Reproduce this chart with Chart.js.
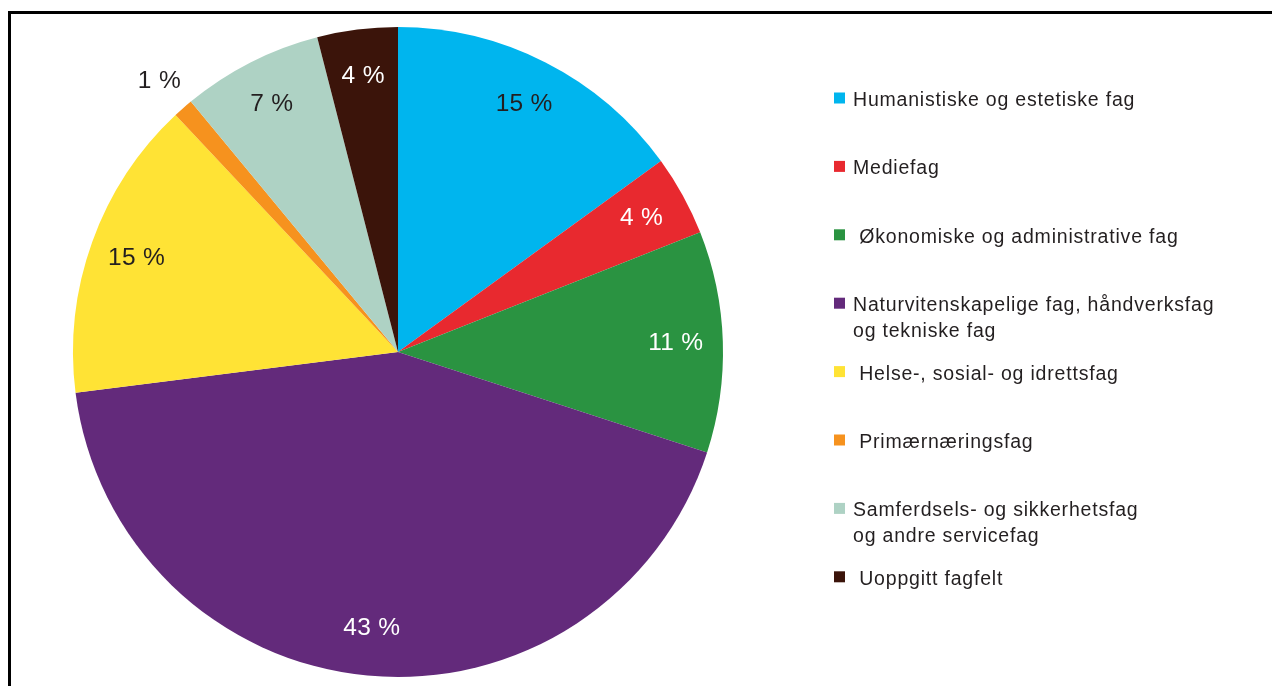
<!DOCTYPE html>
<html lang="no">
<head>
<meta charset="utf-8">
<title>Fagfelt</title>
<script src="https://cdn.jsdelivr.net/npm/chart.js@4/dist/chart.umd.min.js"></script>
<style>
  html, body { margin: 0; padding: 0; background: #ffffff; }
  #wrap { position: relative; width: 1272px; height: 686px; }
</style>
</head>
<body>
<div id="wrap"><canvas id="pie"></canvas></div>
<script>
// Fagfelt (kategorier), slik de står i tegnforklaringen
const categories = [
  'Humanistiske og estetiske fag',
  'Mediefag',
  ' Økonomiske og administrative fag',
  ['Naturvitenskapelige fag, håndverksfag', 'og tekniske fag'],
  ' Helse-, sosial- og idrettsfag',
  ' Primærnæringsfag',
  ['Samferdsels- og sikkerhetsfag', 'og andre servicefag'],
  ' Uoppgitt fagfelt'
];

// Andel i prosent
const shares = [15, 4, 11, 43, 15, 1, 7, 4];

// Farge per fagfelt
const sliceColors = [
  '#00b5ee', '#e8292f', '#2a9341', '#632a7b',
  '#ffe335', '#f6921e', '#aed2c4', '#3b140a'
];

const TEXT = '#231f20';
const FONT = '"Liberation Sans", Arial, Helvetica, sans-serif';

function isDark(hex) {
  const n = parseInt(hex.slice(1), 16);
  const r = (n >> 16) & 255, g = (n >> 8) & 255, b = n & 255;
  return (0.299 * r + 0.587 * g + 0.114 * b) < 110;
}

// Hvit bakgrunn og ramme rundt figuren
const framePlugin = {
  id: 'frame',
  beforeDraw(chart) {
    const ctx = chart.ctx;
    ctx.save();
    ctx.fillStyle = '#ffffff';
    ctx.fillRect(0, 0, chart.width, chart.height);
    ctx.strokeStyle = '#000000';
    ctx.lineWidth = 3;
    ctx.strokeRect(9.5, 12.5, chart.width + 100, chart.height + 100);
    ctx.restore();
  }
};

// Prosentetiketter på hver sektor (små sektorer får etiketten utenfor)
const valueLabels = {
  id: 'valueLabels',
  afterDatasetsDraw(chart) {
    const ctx = chart.ctx;
    const ds = chart.data.datasets[0];
    const meta = chart.getDatasetMeta(0);
    ctx.save();
    ctx.font = '24.5px ' + FONT;
    ctx.letterSpacing = '0.3px';
    ctx.textAlign = 'center';
    ctx.textBaseline = 'middle';
    meta.data.forEach((arc, i) => {
      const v = ds.data[i];
      const mid = (arc.startAngle + arc.endAngle) / 2;
      const outside = v < 2;
      const r = arc.outerRadius * (outside ? 1.11 : 0.855);
      const x = arc.x + Math.cos(mid) * r;
      const y = arc.y + Math.sin(mid) * r;
      ctx.fillStyle = (!outside && isDark(ds.backgroundColor[i])) ? '#ffffff' : TEXT;
      ctx.fillText(v + ' %', x, y);
    });
    ctx.restore();
  }
};

// Tegnforklaring til høyre
const sideLegend = {
  id: 'sideLegend',
  afterDraw(chart) {
    const ctx = chart.ctx;
    const labels = chart.data.labels;
    const colors = chart.data.datasets[0].backgroundColor;
    const x0 = 834, y0 = 98, step = 68.4, box = 11, lineH = 25.5;
    ctx.save();
    ctx.font = '19.5px ' + FONT;
    ctx.letterSpacing = '0.8px';
    ctx.textAlign = 'left';
    ctx.textBaseline = 'alphabetic';
    labels.forEach((lab, i) => {
      const cy = y0 + i * step;
      ctx.fillStyle = colors[i];
      ctx.fillRect(x0, cy - box / 2, box, box);
      ctx.fillStyle = TEXT;
      const lines = Array.isArray(lab) ? lab : [lab];
      lines.forEach((t, k) => {
        ctx.fillText(t, x0 + 19, cy + 8 + k * lineH);
      });
    });
    ctx.restore();
  }
};

new Chart(document.getElementById('pie'), {
  type: 'pie',
  data: {
    labels: categories,
    datasets: [{
      data: shares,
      backgroundColor: sliceColors,
      borderWidth: 0
    }]
  },
  options: {
    responsive: true,
    maintainAspectRatio: false,
    animation: false,
    events: [],
    layout: { padding: { left: 73, top: 27, right: 549, bottom: 9 } },
    plugins: {
      legend: { display: false },
      tooltip: { enabled: false }
    }
  },
  plugins: [framePlugin, valueLabels, sideLegend]
});
</script>
</body>
</html>
